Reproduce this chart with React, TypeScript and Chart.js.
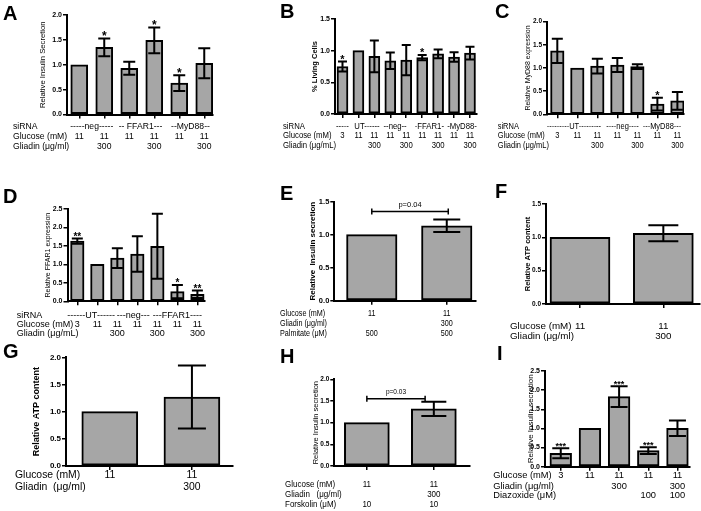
import React, { useEffect, useRef } from "react";
import { Chart, registerables } from "chart.js";
Chart.register(...registerables);

const FONT = "'Liberation Sans', Arial, Helvetica, sans-serif";
const GRAY = "#a6a6a6";

// ---------------- data ----------------
const aValues = [1.0, 1.35, 0.93, 1.49, 0.63, 1.03];
const aErrors = [0, 0.18, 0.13, 0.26, 0.16, 0.3];
const aStars = ["", "*", "", "*", "*", ""];
const aSiRNA = [
  { text: "-----neg-----", at: 0.5 },
  { text: "-- FFAR1---", at: 2.45 },
  { text: "--MyD88--", at: 4.45 },
];
const aGlucose = ["11", "11", "11", "11", "11", "11"];
const aGliadin = ["", "300", "", "300", "", "300"];

const bValues = [0.75, 1.0, 0.91, 0.84, 0.85, 0.89, 0.95, 0.9, 0.96];
const bErrors = [0.08, 0, 0.25, 0.13, 0.24, 0.04, 0.07, 0.075, 0.1];
const bStars = ["*", "", "", "", "", "*", "", "", ""];
const bSiRNA = [
  { text: "-----", at: 0 },
  { text: " UT------", at: 1.47 },
  { text: "--neg--", at: 3.3 },
  { text: "-FFAR1-", at: 5.45 },
  { text: "-MyD88-", at: 7.5 },
];
const bGlucose = ["3", "11", "11", "11", "11", "11", "11", "11", "11"];
const bGliadin = ["", "", "300", "", "300", "", "300", "", "300"];

const cValues = [1.37, 1.0, 1.04, 1.065, 1.03, 0.22, 0.29];
const cErrors = [0.26, 0, 0.16, 0.15, 0.05, 0.14, 0.19];
const cStars = ["", "", "", "", "", "*", ""];
const cSiRNA = [
  { text: "---------UT---------", at: 0.83 },
  { text: "----neg----", at: 3.26 },
  { text: "---MyD88---", at: 5.23 },
];
const cGlucose = ["3", "11", "11", "11", "11", "11", "11"];
const cGliadin = ["", "", "300", "", "300", "", "300"];

const dValues = [1.63, 1.0, 1.17, 1.28, 1.49, 0.26, 0.19];
const dErrors = [0.07, 0, 0.27, 0.48, 0.88, 0.18, 0.1];
const dStars = ["**", "", "", "", "", "*", "**"];
const dSiRNA = [
  { text: "------UT------", at: 0.69 },
  { text: "---neg---", at: 2.8 },
  { text: "---FFAR1----", at: 5.0 },
];
const dGlucose = ["3", "11", "11", "11", "11", "11", "11"];
const dGliadin = ["", "", "300", "", "300", "", "300"];

const eValues = [1.0, 1.135];
const eErrors = [0, 0.095];
const eGlucose = ["11", "11"];
const eGliadin = ["", "300"];
const ePalmitate = ["500", "500"];

const fValues = [1.0, 1.06];
const fErrors = [0, 0.12];
const fGlucose = ["11", "11"];
const fGliadin = ["", "300"];

const gValues = [1.0, 1.27];
const gErrors = [0, 0.58];
const gGlucose = ["11", "11"];
const gGliadin = ["", "300"];

const hValues = [1.0, 1.32];
const hErrors = [0, 0.165];
const hGlucose = ["11", "11"];
const hGliadin = ["", "300"];
const hForskolin = ["10", "10"];

const iValues = [0.35, 1.0, 1.83, 0.42, 1.005];
const iErrors = [0.13, 0, 0.27, 0.09, 0.2];
const iStars = ["***", "", "***", "***", ""];
const iGlucose = ["3", "11", "11", "11", "11"];
const iGliadin = ["", "", "300", "", "300"];
const iDiazoxide = ["", "", "", "100", "100"];

// ---------------- types ----------------
type Cell = { text: string; at: number };
type Row = { label: string; y: number; cells: Cell[] };
type Panel = {
  letter: string;
  letterX: number;
  letterY: number;
  box: [number, number, number, number];
  plot: [number, number, number, number];
  xRange: [number, number];
  yMax: number;
  barPx: number;
  capPx: number;
  values: number[];
  errors: number[];
  stars: string[];
  starSize: number;
  title: string;
  titleX: number;
  titleSize: number;
  titleBold: boolean;
  tickSize: number;
  labelX: number;
  tableSize: number;
  tableScale: number;
  rows: Row[];
  bracket?: { from: number; to: number; value: number; text: string; size: number };
};

const cells = (arr: string[]): Cell[] => arr.map((t, i) => ({ text: t, at: i }));
const none = (n: number) => new Array(n).fill("");

const panels: Panel[] = [
  {
    letter: "A", letterX: 3, letterY: 20,
    box: [0, 0, 232, 160], plot: [67, 15, 213, 114.5], xRange: [-0.49, 5.35],
    yMax: 2, barPx: 17, capPx: 12, values: aValues, errors: aErrors, stars: aStars, starSize: 12,
    title: "Relative Insulin Secretion", titleX: 43, titleSize: 7.7, titleBold: false, tickSize: 7,
    labelX: 13, tableSize: 9.8, tableScale: 0.88,
    rows: [
      { label: "siRNA", y: 126, cells: aSiRNA },
      { label: "Glucose (mM)", y: 136, cells: cells(aGlucose) },
      { label: "Gliadin (\u03bcg/ml)", y: 146, cells: cells(aGliadin) },
    ],
  },
  {
    letter: "B", letterX: 280, letterY: 18,
    box: [270, 0, 210, 160], plot: [335, 19, 477, 114], xRange: [-0.47, 8.44],
    yMax: 1.5, barPx: 11, capPx: 9, values: bValues, errors: bErrors, stars: bStars, starSize: 11,
    title: "% Living Cells", titleX: 315, titleSize: 7.5, titleBold: true, tickSize: 7,
    labelX: 283, tableSize: 9, tableScale: 0.86,
    rows: [
      { label: "siRNA", y: 126.7, cells: bSiRNA },
      { label: "Glucose (mM)", y: 135.7, cells: cells(bGlucose) },
      { label: "Gliadin (\u03bcg/mL)", y: 145.7, cells: cells(bGliadin) },
    ],
  },
  {
    letter: "C", letterX: 495, letterY: 18,
    box: [480, 0, 221, 160], plot: [547, 21.7, 684, 114.3], xRange: [-0.515, 6.33],
    yMax: 2, barPx: 13.5, capPx: 11, values: cValues, errors: cErrors, stars: cStars, starSize: 11,
    title: "Relative MyD88 expression", titleX: 528, titleSize: 7, titleBold: false, tickSize: 6.5,
    labelX: 497.7, tableSize: 8.6, tableScale: 0.87,
    rows: [
      { label: "siRNA", y: 126.7, cells: cSiRNA },
      { label: "Glucose (mM)", y: 136, cells: cells(cGlucose) },
      { label: "Gliadin (\u03bcg/mL)", y: 145.7, cells: cells(cGliadin) },
    ],
  },
  {
    letter: "D", letterX: 3, letterY: 203,
    box: [0, 180, 232, 165], plot: [67.5, 209, 205, 301.3], xRange: [-0.49, 6.38],
    yMax: 2.5, barPx: 13.5, capPx: 11, values: dValues, errors: dErrors, stars: dStars, starSize: 10,
    title: "Relative FFAR1 expression", titleX: 47.7, titleSize: 7, titleBold: false, tickSize: 7,
    labelX: 16.7, tableSize: 9.8, tableScale: 0.92,
    rows: [
      { label: "siRNA", y: 315, cells: dSiRNA },
      { label: "Glucose (mM)", y: 324, cells: cells(dGlucose) },
      { label: "Gliadin (\u03bcg/mL)", y: 333.3, cells: cells(dGliadin) },
    ],
  },
  {
    letter: "E", letterX: 280, letterY: 200,
    box: [270, 175, 210, 170], plot: [334.3, 201.7, 476, 300.7], xRange: [-0.5, 1.39],
    yMax: 1.5, barPx: 50.5, capPx: 27, values: eValues, errors: eErrors, stars: none(2), starSize: 9,
    title: "Relative  Insulin secretion", titleX: 313, titleSize: 8, titleBold: true, tickSize: 7.5,
    labelX: 280, tableSize: 9, tableScale: 0.8,
    rows: [
      { label: "Glucose (mM)", y: 313.3, cells: cells(eGlucose) },
      { label: "Gliadin (\u03bcg/ml)", y: 323.3, cells: cells(eGliadin) },
      { label: "Palmitate (\u03bcM)", y: 333.3, cells: cells(ePalmitate) },
    ],
    bracket: { from: 0, to: 1.02, value: 1.35, text: "p=0.04", size: 7.5 },
  },
  {
    letter: "F", letterX: 495, letterY: 198,
    box: [490, 175, 211, 170], plot: [546, 204, 700, 304], xRange: [-0.408, 1.44],
    yMax: 1.5, barPx: 60, capPx: 30, values: fValues, errors: fErrors, stars: none(2), starSize: 9,
    title: "Relative ATP content", titleX: 528.3, titleSize: 7.5, titleBold: true, tickSize: 6.5,
    labelX: 510, tableSize: 9.8, tableScale: 1,
    rows: [
      { label: "Glucose (mM)", y: 326.7, cells: cells(fGlucose) },
      { label: "Gliadin (\u03bcg/ml)", y: 336.7, cells: cells(fGliadin) },
    ],
  },
  {
    letter: "G", letterX: 3, letterY: 358,
    box: [0, 340, 240, 171], plot: [66, 357.3, 233, 466], xRange: [-0.533, 1.5],
    yMax: 2, barPx: 56, capPx: 28, values: gValues, errors: gErrors, stars: none(2), starSize: 9,
    title: "Relative ATP content", titleX: 36.7, titleSize: 9, titleBold: true, tickSize: 8,
    labelX: 15, tableSize: 10.4, tableScale: 1,
    rows: [
      { label: "Glucose (mM)", y: 475, cells: cells(gGlucose) },
      { label: "Gliadin  (\u03bcg/ml)", y: 486.7, cells: cells(gGliadin) },
    ],
  },
  {
    letter: "H", letterX: 280, letterY: 363,
    box: [270, 345, 210, 166], plot: [334.3, 379.3, 470, 466], xRange: [-0.486, 1.54],
    yMax: 2, barPx: 45, capPx: 25, values: hValues, errors: hErrors, stars: none(2), starSize: 9,
    title: "Relative Insulin secretion", titleX: 316, titleSize: 7.5, titleBold: false, tickSize: 6.5,
    labelX: 285, tableSize: 9.2, tableScale: 0.87,
    rows: [
      { label: "Glucose (mM)", y: 484, cells: cells(hGlucose) },
      { label: "Gliadin   (\u03bcg/ml)", y: 494.3, cells: cells(hGliadin) },
      { label: "Forskolin (\u03bcM)", y: 504.3, cells: cells(hForskolin) },
    ],
    bracket: { from: 0, to: 0.87, value: 1.55, text: "p=0.03", size: 6.5 },
  },
  {
    letter: "I", letterX: 497, letterY: 360,
    box: [480, 345, 221, 166], plot: [545, 371, 690, 466.7], xRange: [-0.54, 4.43],
    yMax: 2.5, barPx: 21.7, capPx: 17, values: iValues, errors: iErrors, stars: iStars, starSize: 9,
    title: "Relative Insulin secretion", titleX: 531, titleSize: 8, titleBold: false, tickSize: 7,
    labelX: 493.3, tableSize: 9.3, tableScale: 1,
    rows: [
      { label: "Glucose (mM)", y: 475.7, cells: cells(iGlucose) },
      { label: "Gliadin (\u03bcg/ml)", y: 486, cells: cells(iGliadin) },
      { label: "Diazoxide (\u03bcM)", y: 495.7, cells: cells(iDiazoxide) },
    ],
  },
];

function ChartPanel({ p }: { p: Panel }) {
  const ref = useRef<HTMLCanvasElement>(null);
  useEffect(() => {
    if (!ref.current) return;
    const [bx, by, bw, bh] = p.box;
    const [L, T, R, B] = p.plot;
    const lh = p.titleSize * 1.2;
    const pl = Math.max(0, p.titleX - lh / 2 - bx);
    const yW = L - bx - pl;
    const xH = 4;

    const drawText = (
      ctx: CanvasRenderingContext2D,
      t: string,
      x: number,
      y: number,
      align: CanvasTextAlign
    ) => {
      ctx.save();
      ctx.translate(x, y);
      ctx.scale(p.tableScale, 1);
      ctx.textAlign = align;
      ctx.fillText(t, 0, 0);
      ctx.restore();
    };

    const extras = {
      id: "extras" + p.letter,
      afterDatasetsDraw(chart: any) {
        const ctx = chart.ctx as CanvasRenderingContext2D;
        const xs = chart.scales.x;
        const ys = chart.scales.y;
        ctx.save();
        ctx.strokeStyle = "#000";
        ctx.fillStyle = "#000";
        ctx.lineWidth = 2;
        p.values.forEach((v, i) => {
          const e = p.errors[i];
          const x = xs.getPixelForValue(i);
          const yt = ys.getPixelForValue(v + e);
          if (e > 0) {
            const yb = ys.getPixelForValue(v - e);
            const c = p.capPx / 2;
            ctx.beginPath();
            ctx.moveTo(x, yt);
            ctx.lineTo(x, yb);
            ctx.moveTo(x - c, yt);
            ctx.lineTo(x + c, yt);
            ctx.moveTo(x - c, yb);
            ctx.lineTo(x + c, yb);
            ctx.stroke();
          }
          if (p.stars[i]) {
            ctx.font = `bold ${p.starSize}px ${FONT}`;
            ctx.textAlign = "center";
            ctx.textBaseline = "alphabetic";
            ctx.fillText(p.stars[i], x, yt + p.starSize * 0.12);
          }
        });
        if (p.bracket) {
          const bk = p.bracket;
          const y = ys.getPixelForValue(bk.value);
          const x1 = xs.getPixelForValue(bk.from);
          const x2 = xs.getPixelForValue(bk.to);
          ctx.lineWidth = 1.5;
          ctx.beginPath();
          ctx.moveTo(x1, y);
          ctx.lineTo(x2, y);
          ctx.moveTo(x1, y - 3);
          ctx.lineTo(x1, y + 3);
          ctx.moveTo(x2, y - 3);
          ctx.lineTo(x2, y + 3);
          ctx.stroke();
          ctx.font = `${bk.size}px ${FONT}`;
          ctx.textAlign = "center";
          ctx.textBaseline = "alphabetic";
          ctx.fillText(bk.text, (x1 + x2) / 2, y - 5);
        }
        ctx.font = `${p.tableSize}px ${FONT}`;
        ctx.textBaseline = "middle";
        p.rows.forEach((row) => {
          const y = row.y - by;
          drawText(ctx, row.label, p.labelX - bx, y, "left");
          row.cells.forEach((c) => {
            if (c.text) drawText(ctx, c.text, xs.getPixelForValue(c.at), y, "center");
          });
        });
        ctx.restore();
      },
    };

    const axisGrid = {
      display: true,
      drawOnChartArea: false,
      drawTicks: true,
      tickLength: 4,
      color: "#000",
      lineWidth: 1.5,
      offset: false,
    };
    const chart = new Chart(ref.current, {
      type: "bar",
      data: {
        datasets: [
          {
            data: p.values.map((v, i) => ({ x: i, y: v })),
            backgroundColor: GRAY,
            borderColor: "#000",
            borderWidth: 2,
            borderSkipped: false,
            barThickness: p.barPx,
          } as any,
        ],
      },
      options: {
        animation: false,
        responsive: false,
        maintainAspectRatio: false,
        layout: {
          autoPadding: false,
          padding: { left: pl, top: T - by, right: bx + bw - R, bottom: by + bh - B - xH },
        },
        plugins: { legend: { display: false }, tooltip: { enabled: false } },
        scales: {
          x: {
            type: "linear",
            min: p.xRange[0],
            max: p.xRange[1],
            offset: false,
            afterBuildTicks: (s: any) => {
              s.ticks = p.values.map((_, i) => ({ value: i }));
            },
            afterFit: (s: any) => {
              s.height = xH;
            },
            ticks: { display: false },
            grid: axisGrid,
            border: { display: true, color: "#000", width: 2 },
          },
          y: {
            min: 0,
            max: p.yMax,
            afterFit: (s: any) => {
              s.width = yW;
            },
            ticks: {
              stepSize: 0.5,
              callback: (v: any) => Number(v).toFixed(1),
              color: "#000",
              padding: 1,
              font: { family: FONT, size: p.tickSize, weight: "bold" },
            },
            grid: axisGrid,
            border: { display: true, color: "#000", width: 2 },
            title: {
              display: true,
              text: p.title,
              color: "#000",
              padding: 0,
              font: { family: FONT, size: p.titleSize, weight: p.titleBold ? "bold" : "normal" },
            },
          },
        },
      } as any,
      plugins: [extras],
    });
    return () => chart.destroy();
  }, [p]);

  const [bx, by, bw, bh] = p.box;
  return (
    <>
      <canvas
        ref={ref}
        width={bw}
        height={bh}
        style={{ position: "absolute", left: bx, top: by, width: bw, height: bh }}
      />
      <div
        style={{
          position: "absolute",
          left: p.letterX,
          top: p.letterY - 17,
          font: `bold 20px ${FONT}`,
          lineHeight: "20px",
          color: "#000",
        }}
      >
        {p.letter}
      </div>
    </>
  );
}

export default function App() {
  return (
    <div
      style={{
        position: "absolute",
        left: 0,
        top: 0,
        width: 701,
        height: 511,
        background: "#fff",
        overflow: "hidden",
      }}
    >
      {panels.map((p) => (
        <ChartPanel key={p.letter} p={p} />
      ))}
    </div>
  );
}
